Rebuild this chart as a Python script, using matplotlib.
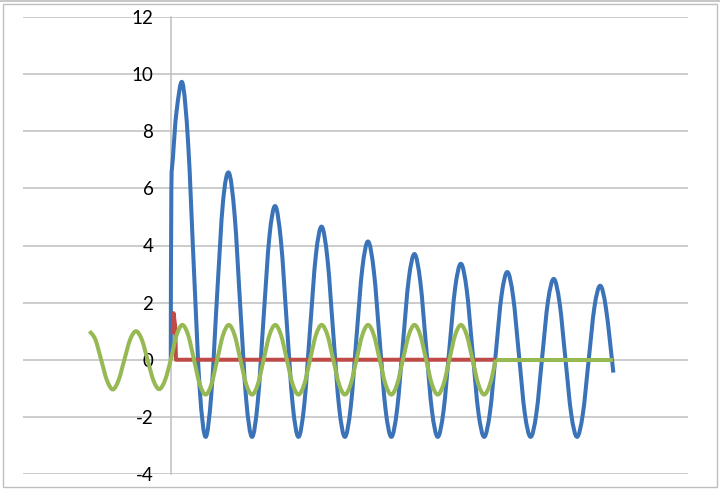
import numpy as np
import matplotlib
matplotlib.use("Agg")
import matplotlib.pyplot as plt
from matplotlib.path import Path
from matplotlib.patches import PathPatch, Rectangle
from matplotlib.lines import Line2D

# ---------------- data ----------------
DT = 0.15708                      # regular sample spacing of the series

# blue series: start of the response, then regular samples i = 1..75, then last point
blue_head_t = [0.0, 0.015, 0.06]
blue_head = [0.0, 5.9, 7.1]
blue = [8.7, 9.70, 7.55, 3.11, -1.06, -2.70, -1.17, 2.32, 5.53,
        6.55, 5.07, 1.78, -1.41, -2.70, -1.45, 1.49, 4.32,
        5.38, 4.12, 1.25, -1.56, -2.70, -1.58, 1.07, 3.66,
        4.66, 3.53, 0.92, -1.65, -2.70, -1.67, 0.79, 3.19,
        4.14, 3.09, 0.67, -1.72, -2.70, -1.74, 0.56, 2.81,
        3.70, 2.73, 0.46, -1.78, -2.70, -1.79, 0.37, 2.51,
        3.36, 2.44, 0.29, -1.83, -2.70, -1.84, 0.22, 2.26,
        3.07, 2.20, 0.16, -1.87, -2.70, -1.88, 0.10, 2.05,
        2.83, 1.99, 0.04, -1.90, -2.70, -1.91, -0.03, 1.84,
        2.59, 1.79]
blue_tail_t = [11.98]
blue_tail = [-0.45]

# red series (short pulse at t = 0, then zero)
red_t = [0.05, 0.075, 0.12, 0.14, 8.80]
red = [0.9, 1.63, 1.15, 0.0, 0.0]

# green series: regular samples from t = -14*DT to 56*DT, then flat zero
green_first_index = -14
green = [1.0, 0.71, 0.0, -0.72, -1.04, -0.72, 0.0, 0.71, 1.0, 0.71, 0.0, -0.72, -1.03, -0.72,
         0.0,
         0.86, 1.22, 0.86, 0.0, -0.86, -1.22, -0.86, 0.0,
         0.86, 1.22, 0.86, 0.0, -0.86, -1.22, -0.86, 0.0,
         0.86, 1.22, 0.86, 0.0, -0.86, -1.22, -0.86, 0.0,
         0.86, 1.22, 0.86, 0.0, -0.86, -1.22, -0.86, 0.0,
         0.86, 1.22, 0.86, 0.0, -0.86, -1.22, -0.86, 0.0,
         0.86, 1.22, 0.86, 0.0, -0.86, -1.22, -0.86, 0.0,
         0.86, 1.22, 0.86, 0.0, -0.86, -1.22, -0.86, 0.0]
green_flat_end = 11.98

y_ticks = [-4, -2, 0, 2, 4, 6, 8, 10, 12]
x_limits = (-4, 14)

# ---------------- helpers ----------------
def smooth_path(x, y):
    """Smoothed line through the points (Catmull-Rom as cubic Bezier), like Excel."""
    pts = np.column_stack([np.asarray(x, float), np.asarray(y, float)])
    n = len(pts)
    verts = [pts[0]]
    codes = [Path.MOVETO]
    for i in range(n - 1):
        p0 = pts[i - 1] if i > 0 else pts[i]
        p1 = pts[i]
        p2 = pts[i + 1]
        p3 = pts[i + 2] if i + 2 < n else pts[i + 1]
        c1 = p1 + (p2 - p0) / 6.0
        c2 = p2 - (p3 - p1) / 6.0
        verts += [c1, c2, p2]
        codes += [Path.CURVE4] * 3
    return Path(verts, codes)

# ---------------- figure ----------------
W, H = 720, 491
fig = plt.figure(figsize=(W / 100, H / 100), dpi=100)
fig.patch.set_facecolor("white")

ax = fig.add_axes([23 / W, 1 - 474 / H, 665 / W, 457 / H])
ax.set_xlim(*x_limits)
ax.set_ylim(min(y_ticks), max(y_ticks))

BLUE = "#3B73B9"
RED = "#BE4B48"
GREEN = "#97B954"
LW = 2.9

bt = list(blue_head_t) + list(DT * np.arange(1, len(blue) + 1)) + list(blue_tail_t)
by = list(blue_head) + list(blue) + list(blue_tail)
ax.add_patch(PathPatch(smooth_path(bt, by), fill=False, edgecolor=BLUE, lw=LW,
                       joinstyle="round", capstyle="butt", zorder=3))

ax.plot(red_t, red, color=RED, lw=LW, solid_joinstyle="round",
        solid_capstyle="butt", zorder=4)

gt = DT * (np.arange(len(green)) + green_first_index)
ax.add_patch(PathPatch(smooth_path(gt, green), fill=False, edgecolor=GREEN, lw=LW,
                       joinstyle="round", capstyle="butt", zorder=5))
ax.plot([gt[-1], green_flat_end], [green[-1], green[-1]], color=GREEN, lw=LW,
        solid_capstyle="butt", zorder=5)

# axes styling (Excel look)
for s in ["top", "right", "bottom"]:
    ax.spines[s].set_visible(False)
ax.spines["left"].set_position(("data", 0))
ax.spines["left"].set_color("#BFBFBF")
ax.spines["left"].set_linewidth(1.1)
ax.spines["left"].set_zorder(1)
ax.set_xticks([])
ax.set_yticks(y_ticks)
ax.set_yticklabels([str(v) for v in y_ticks])
ax.tick_params(axis="y", length=0, pad=12.5, labelsize=13.5, labelcolor="black")
for lab in ax.get_yticklabels():
    lab.set_family(["Lato", "DejaVu Sans"])
ax.grid(axis="y", color="#BFBFBF", lw=1.1, zorder=0)
ax.set_axisbelow(True)
ax.patch.set_alpha(0)

# chart-area border
fig.patches.append(Rectangle((3 / W, 1 - 487 / H), 714 / W, 483 / H, transform=fig.transFigure,
                             fill=False, edgecolor="#BFBFBF", lw=1.0, zorder=0))
fig.lines.append(Line2D([0, 1], [1 - 1 / H, 1 - 1 / H], transform=fig.transFigure,
                        color="#C8C8C8", lw=1.5))

fig.savefig("out.png", dpi=100, facecolor="white")
